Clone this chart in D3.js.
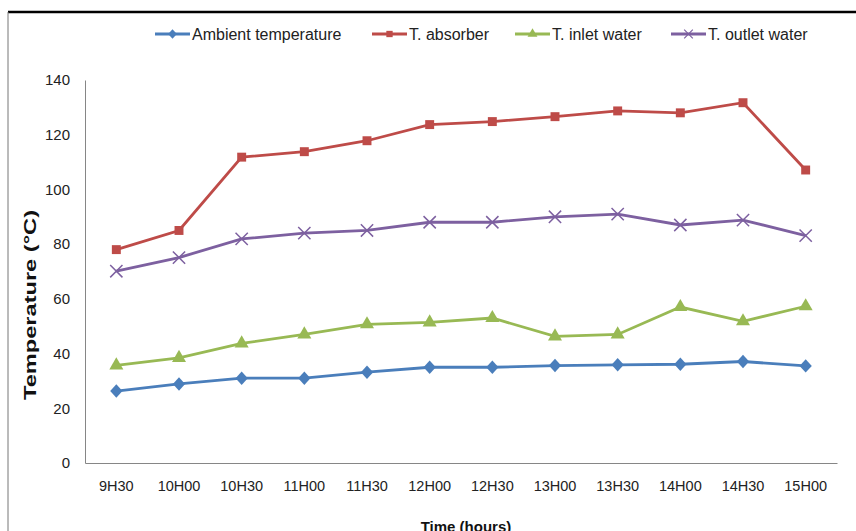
<!DOCTYPE html>
<html><head><meta charset="utf-8">
<script src="https://cdn.jsdelivr.net/npm/d3@7"></script>
<style>body{margin:0;background:#fff;} svg{display:block;}</style>
</head><body>
<script>
const categories = ["9H30","10H00","10H30","11H00","11H30","12H00","12H30","13H00","13H30","14H00","14H30","15H00"];
const ambient = [26.3, 28.9, 31, 31, 33.2, 35, 35, 35.6, 35.9, 36.1, 37.1, 35.5];
const absorber = [78, 85, 111.8, 113.8, 117.8, 123.7, 124.8, 126.6, 128.7, 128, 131.7, 107.1];
const inlet = [35.7, 38.4, 43.7, 47, 50.7, 51.4, 53, 46.3, 47, 57, 51.8, 57.3];
const outlet = [70.1, 75.1, 81.9, 84, 85, 88, 88, 90, 91, 87, 88.8, 83.1];
const yTicks = [0,20,40,60,80,100,120,140];
const seriesNames = ["Ambient temperature","T. absorber","T. inlet water","T. outlet water"];

const W=856,H=531;
const svg=d3.select("body").append("svg").attr("width",W).attr("height",H);
const font="'Liberation Sans', Arial, sans-serif";

// frame
svg.append("line").attr("x1",8).attr("x2",W).attr("y1",12).attr("y2",12).attr("stroke","#000").attr("stroke-width",2.5);
svg.append("line").attr("x1",8).attr("x2",8).attr("y1",12).attr("y2",H).attr("stroke","#777").attr("stroke-width",1);

const x=d3.scaleBand().domain(categories).range([85,837]);
const y=d3.scaleLinear().domain([0,140]).range([463,80]);

// axes
const gx=svg.append("g").attr("transform","translate(0,463)").call(d3.axisBottom(x).tickSize(0).tickPadding(18));
gx.select(".domain").attr("stroke","#868686");
gx.selectAll("text").attr("font-family",font).attr("font-size",14.5).attr("fill","#222");
const gy=svg.append("g").attr("transform","translate(85,0)").call(d3.axisLeft(y).tickValues(yTicks).tickSize(0).tickPadding(15));
gy.select(".domain").attr("stroke","#868686");
gy.selectAll("text").attr("font-family",font).attr("font-size",15).attr("fill","#222");

svg.append("text").attr("x",466).attr("y",532).attr("text-anchor","middle").attr("font-family",font).attr("font-weight","bold").attr("font-size",15).attr("fill","#111").text("Time (hours)");
svg.append("text").attr("transform","translate(36,305) rotate(-90)").attr("text-anchor","middle").attr("font-family",font).attr("font-weight","bold").attr("font-size",17)
  .attr("textLength",190).attr("lengthAdjust","spacingAndGlyphs").attr("fill","#111").text("Temperature (°C)");

const colors=["#4A7EBB","#BE4B48","#98B954","#7D60A0"];
const data=[ambient,absorber,inlet,outlet];
const wideDiamond={draw(ctx,size){const r=Math.sqrt(size)/2;ctx.moveTo(0,-r*1.1);ctx.lineTo(r,0);ctx.lineTo(0,r*1.1);ctx.lineTo(-r,0);ctx.closePath();}};
const symbols=[wideDiamond,d3.symbolSquare,d3.symbolTriangle,d3.symbolX];
const sizes=[150,80,85,100];
const cx=c=>x(c)+x.bandwidth()/2;
const line=d3.line().x((d,i)=>cx(categories[i])).y(d=>y(d));

data.forEach((vals,k)=>{
  svg.append("path").datum(vals).attr("d",line).attr("fill","none").attr("stroke",colors[k]).attr("stroke-width",2.8);
  svg.selectAll(null).data(vals).enter().append("path")
    .attr("transform",(d,i)=>`translate(${cx(categories[i])},${y(d)})`)
    .attr("d",d3.symbol().type(symbols[k]).size(sizes[k]))
    .attr("fill",k===3?"none":colors[k]).attr("stroke",colors[k]).attr("stroke-width",k===3?1.5:0);
});

// legend
const legX=[155,372,515,671];
seriesNames.forEach((n,k)=>{
  const g=svg.append("g").attr("transform",`translate(${legX[k]},34)`);
  g.append("line").attr("x1",0).attr("x2",35).attr("stroke",colors[k]).attr("stroke-width",2.8);
  g.append("path").attr("transform","translate(17.5,0)").attr("d",d3.symbol().type(symbols[k]).size(sizes[k]*0.5))
    .attr("fill",k===3?"none":colors[k]).attr("stroke",colors[k]).attr("stroke-width",k===3?1.2:0);
  g.append("text").attr("x",37).attr("y",5.5).attr("font-family",font).attr("font-size",16).attr("fill","#222").text(n);
});
</script>
</body></html>
